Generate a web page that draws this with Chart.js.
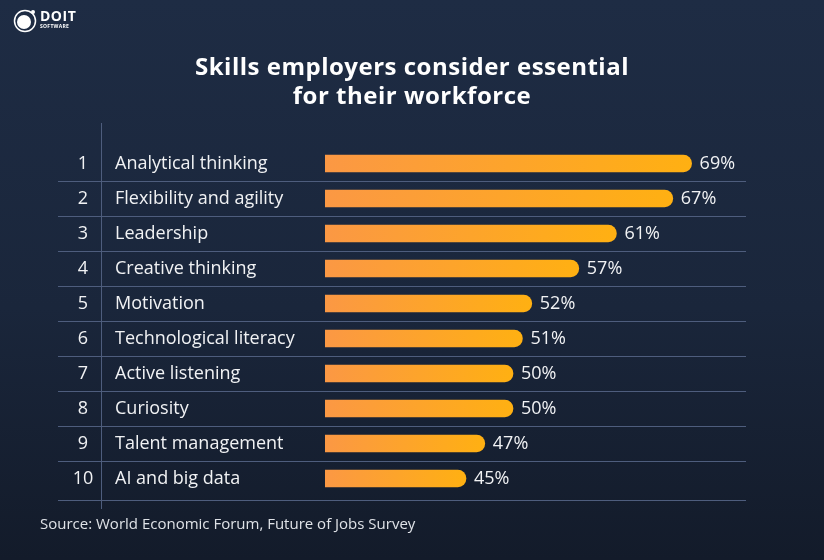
<!DOCTYPE html>
<html>
<head>
<meta charset="utf-8">
<script src="https://cdn.jsdelivr.net/npm/chart.js@4.4.1/dist/chart.umd.min.js"></script>
<style>
  html, body { margin: 0; padding: 0; }
  body {
    width: 824px; height: 560px; overflow: hidden;
    background: linear-gradient(180deg, #1e2c44 0%, #1a263b 55%, #131b2a 100%);
  }
  #wrap { position: relative; width: 824px; height: 560px; }
</style>
</head>
<body>
<div id="wrap"><canvas id="skillsChart"></canvas></div>
<script>
const ranks = ['1', '2', '3', '4', '5', '6', '7', '8', '9', '10'];
const skills = [
  'Analytical thinking',
  'Flexibility and agility',
  'Leadership',
  'Creative thinking',
  'Motivation',
  'Technological literacy',
  'Active listening',
  'Curiosity',
  'Talent management',
  'AI and big data'
];
const shares = [69, 67, 61, 57, 52, 51, 50, 50, 47, 45];
const titleLines = ['Skills employers consider essential', 'for their workforce'];
const sourceText = 'Source: World Economic Forum, Future of Jobs Survey';

const textColor = '#f1f2f4';
const lineColor = '#4e5d7d';

// table, labels, title and logo drawn around the bars
const tablePlugin = {
  id: 'tableDecor',
  beforeDatasetsDraw(chart) {
    const { ctx } = chart;
    const y = chart.scales.y;
    ctx.save();
    ctx.strokeStyle = lineColor;
    ctx.lineWidth = 1;
    // row separators
    for (let i = 0; i < ranks.length; i++) {
      const yc = y.getPixelForValue(i);
      const yl = i < ranks.length - 1 ? (yc + y.getPixelForValue(i + 1)) / 2 : yc + 21;
      ctx.beginPath();
      ctx.moveTo(58, Math.round(yl) + 0.5);
      ctx.lineTo(746, Math.round(yl) + 0.5);
      ctx.stroke();
    }
    // vertical divider
    ctx.beginPath();
    ctx.moveTo(101.5, 123);
    ctx.lineTo(101.5, 509);
    ctx.stroke();

    ctx.fillStyle = textColor;
    ctx.font = '18px "Open Sans"';
    ctx.textBaseline = 'middle';
    ranks.forEach((r, i) => {
      const yc = y.getPixelForValue(i);
      ctx.textAlign = 'center';
      ctx.fillText(r, 83, yc);
      ctx.textAlign = 'left';
      ctx.fillText(skills[i], 115, yc);
    });

    // title
    ctx.font = 'bold 24px "Open Sans"';
    ctx.letterSpacing = '0.5px';
    ctx.textAlign = 'center';
    ctx.fillStyle = '#ffffff';
    ctx.fillText(titleLines[0], 412, 68);
    ctx.fillText(titleLines[1], 412, 97);
    ctx.letterSpacing = '0px';

    // source
    ctx.font = '15px "Open Sans"';
    ctx.textAlign = 'left';
    ctx.fillStyle = '#dfe2e7';
    ctx.fillText(sourceText, 40, 525);

    // logo
    ctx.strokeStyle = '#ffffff';
    ctx.fillStyle = '#ffffff';
    ctx.lineWidth = 1.5;
    ctx.beginPath();
    ctx.arc(25, 21, 10.5, 0, Math.PI * 2);
    ctx.stroke();
    ctx.beginPath();
    ctx.arc(24, 22, 7, 0, Math.PI * 2);
    ctx.fill();
    ctx.beginPath();
    ctx.arc(33, 12, 2, 0, Math.PI * 2);
    ctx.fill();
    ctx.font = 'bold 14px "Open Sans"';
    ctx.letterSpacing = '0.5px';
    ctx.fillText('DOIT', 40, 17);
    ctx.font = 'bold 5px "Open Sans"';
    ctx.letterSpacing = '0.3px';
    ctx.fillText('SOFTWARE', 40, 27);
    ctx.letterSpacing = '0px';
    ctx.restore();
  },
  afterDatasetsDraw(chart) {
    const { ctx } = chart;
    const meta = chart.getDatasetMeta(0);
    ctx.save();
    ctx.fillStyle = textColor;
    ctx.font = '18px "Open Sans"';
    ctx.textBaseline = 'middle';
    ctx.textAlign = 'left';
    meta.data.forEach((bar, i) => {
      ctx.fillText(shares[i] + '%', bar.x + 8, bar.y);
    });
    ctx.restore();
  }
};

const ctx = document.getElementById('skillsChart').getContext('2d');
new Chart(ctx, {
  type: 'bar',
  data: {
    labels: skills,
    datasets: [{
      data: shares,
      barThickness: 17,
      borderRadius: 9,
      borderSkipped: false,
      backgroundColor: (c) => {
        const chart = c.chart;
        const area = chart.chartArea;
        if (!area || c.dataIndex === undefined) return '#fda030';
        const end = chart.scales.x.getPixelForValue(shares[c.dataIndex]);
        const g = chart.ctx.createLinearGradient(area.left, 0, end, 0);
        g.addColorStop(0, '#fb9844');
        g.addColorStop(1, '#ffb012');
        return g;
      }
    }]
  },
  options: {
    indexAxis: 'y',
    responsive: true,
    maintainAspectRatio: false,
    animation: false,
    layout: { padding: { left: 325, right: 76, top: 146, bottom: 64 } },
    plugins: {
      legend: { display: false },
      tooltip: { enabled: false }
    },
    scales: {
      x: { display: false, min: 30, max: 75 },
      y: { display: false }
    }
  },
  plugins: [tablePlugin]
});
</script>
</body>
</html>
